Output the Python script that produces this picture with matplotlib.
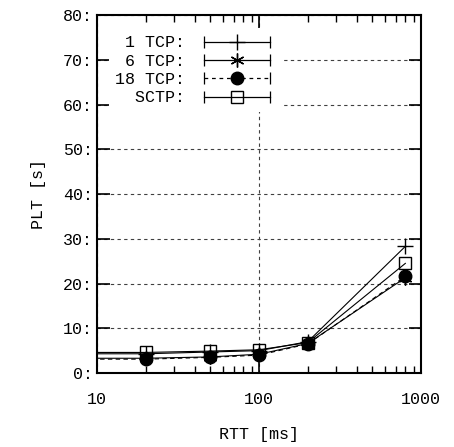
import matplotlib
matplotlib.use('Agg')
from matplotlib import pyplot as plt
from matplotlib.lines import Line2D
from matplotlib.legend_handler import HandlerLine2D
from matplotlib.ticker import FixedLocator, FuncFormatter, LogLocator, NullFormatter

plt.rcParams['font.family'] = ['Liberation Mono', 'DejaVu Sans Mono']

# RTT in ms (first point lies left of the shown range, lines start at the axis)
rtt = [2, 20, 50, 100, 200, 800]

tcp1 = [4.3, 4.3, 4.7, 5.0, 7.0, 28.3]
tcp6 = [3.3, 3.3, 3.6, 4.2, 6.6, 21.3]
tcp18 = [3.1, 3.1, 3.5, 4.0, 6.5, 21.6]
sctp = [4.6, 4.6, 4.9, 5.2, 6.8, 24.5]

labels = [' 1 TCP:', ' 6 TCP:', '18 TCP:', '  SCTP:']

fig = plt.figure(figsize=(4.54, 4.47), dpi=100)
ax = fig.add_axes([0.2137, 0.1655, 0.7137, 0.8009])

ax.plot(rtt, tcp1, color='k', lw=0.8, marker='+', ms=11, mew=1.0)
ax.plot(rtt, tcp6, color='k', lw=0.8, marker=(6, 2, 0), ms=10, mew=1.0)
ax.plot(rtt, tcp18, color='k', lw=0.8, ls=(0, (4, 3)), marker='o', ms=9)
ax.plot(rtt, sctp, color='k', lw=0.8, marker='s', ms=9, mfc='none', mew=1.0)

ax.set_xscale('log')
ax.set_xlim(10, 1000)
ax.set_ylim(0, 80)

ax.xaxis.set_major_locator(FixedLocator([10, 100, 1000]))
ax.xaxis.set_minor_locator(LogLocator(base=10, subs=range(2, 10)))
ax.xaxis.set_minor_formatter(NullFormatter())
ax.xaxis.set_major_formatter(FuncFormatter(lambda v, p: '%d' % v))
ax.yaxis.set_major_locator(FixedLocator(range(0, 81, 10)))
ax.yaxis.set_major_formatter(FuncFormatter(lambda v, p: '%d:' % v))

ax.tick_params(which='major', direction='in', length=9, width=1.2, top=True, right=True,
               labelsize=12)
ax.tick_params(axis='x', which='major', pad=14)
ax.tick_params(axis='y', which='major', pad=3)
ax.tick_params(which='minor', direction='in', length=5, width=1.0, top=True, right=True)
for s in ax.spines.values():
    s.set_linewidth(1.5)

ax.grid(True, which='major', color='0.25', ls=(0, (3, 3)), lw=0.8)

ax.set_xlabel('RTT [ms]', fontsize=12, labelpad=14)
ax.set_ylabel('PLT [s]', fontsize=12, labelpad=12)

markers = [
    dict(marker='+', ms=11, mew=1.0, mfc='k'),
    dict(marker=(6, 2, 0), ms=10, mew=1.0, mfc='k'),
    dict(marker='o', ms=9, mew=1.0, mfc='k'),
    dict(marker='s', ms=9, mew=1.0, mfc='none'),
]
styles = ['-', '-', (0, (3, 3)), '-']
handles = []
hmap = {}
for st, mk in zip(styles, markers):
    caps = Line2D([], [], color='k', lw=0.9, ls=st, marker='|', ms=9, mew=0.9)
    mark = Line2D([], [], color='k', ls='none', **mk)
    hmap[caps] = HandlerLine2D(numpoints=2)
    hmap[mark] = HandlerLine2D(numpoints=1)
    handles.append((caps, mark))

leg = ax.legend(handles, labels, handler_map=hmap, loc='upper left',
                bbox_to_anchor=(0.01, 0.985), markerfirst=False, fontsize=12,
                handlelength=4.6, handletextpad=0.8, labelspacing=0.2,
                borderpad=0.4, frameon=True, fancybox=False, edgecolor='none',
                framealpha=1.0)

fig.savefig('out.png', dpi=100)
